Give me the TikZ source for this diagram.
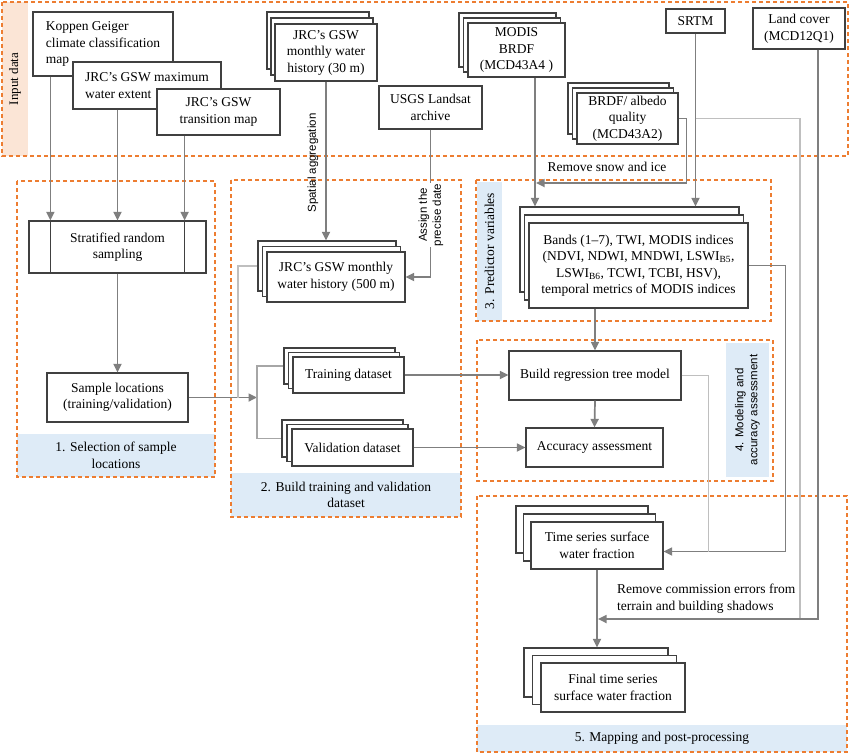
\documentclass[tikz,border=0pt]{standalone}
\usepackage{fontspec}
\setmainfont{Liberation Serif}
\setsansfont{Liberation Sans}
\usetikzlibrary{arrows.meta}

\definecolor{boxgray}{HTML}{404040}
\definecolor{arrgray}{HTML}{7F7F7F}
\definecolor{lightln}{HTML}{BFBFBF}
\definecolor{midln}{HTML}{A6A6A6}
\definecolor{frameor}{HTML}{ED7D31}
\definecolor{tagblue}{HTML}{DEEBF7}
\definecolor{tagpeach}{HTML}{FBE5D6}

\newcommand\boxfont{\fontsize{13.5}{16.5}\selectfont}
\newcommand\sidefont{\sffamily\fontsize{11.5}{14}\selectfont}

\begin{document}
\begin{tikzpicture}[
    x = 1pt, y = -1pt,
    box/.style = {draw=boxgray, line width=1.2pt, fill=white, inner sep=0pt,
        align=center, font=\boxfont},
    stackcopy/.style = {draw=boxgray, line width=1.2pt, fill=white},
    stack/.style 2 args = {box,
        preaction={stackcopy, transform canvas={shift={(-2*#1pt,2*#2pt)}}},
        preaction={stackcopy, transform canvas={shift={(-#1pt,#2pt)}}}},
    stagetag/.style = {fill=tagblue, inner sep=0pt, align=center, font=\boxfont},
    stageframe/.style = {draw=frameor, line width=1.2pt, dash pattern=on 4pt off 3pt},
    flow/.style = {draw=arrgray, line width=1.7pt, -{Triangle[length=8.5pt,width=8pt]}},
    feed/.style = {draw=lightln, line width=1.1pt},
    fork/.style = {draw=midln, line width=1.2pt}]
\useasboundingbox (0,0) rectangle (850,753);

\node[stagetag, fill=tagpeach, rotate=90, minimum width=154pt, minimum height=26pt,
    font=\fontsize{13}{15}\selectfont] (tin) at (15,79) {Input data};
\node[stagetag, minimum width=198pt, minimum height=43pt] (t1) at (116,455.5) {1. Selection of sample\\locations};
\node[stagetag, minimum width=230pt, minimum height=44pt] (t2) at (346,495) {2. Build training and validation\\dataset};
\node[stagetag, rotate=90, minimum width=139pt, minimum height=25pt] (t3) at (489.5,251) {3. Predictor variables};
\node[stagetag, rotate=90, minimum width=134pt, minimum height=43pt, font=\sidefont] (t4) at (747.5,410) {4. Modeling and\\accuracy assessment};
\node[stagetag, minimum width=370pt, minimum height=27pt] (t5) at (662,738.5) {5. Mapping and post-processing};

\draw[stageframe] (2,2) rectangle (848,156)
    (17,181) rectangle (215,477)
    (231,180) rectangle (461,517)
    (476,180) rectangle (771,321)
    (477,340) rectangle (773,481)
    (477,496) rectangle (847,752);

\node[box, align=left, minimum width=140pt, minimum height=64pt] (kop) at (103,44) {Koppen Geiger\\climate classification\\map};
\node[box, align=left, minimum width=148pt, minimum height=47pt] (ext) at (147,85.5) {JRC’s GSW maximum\\water extent};
\node[box, minimum width=123pt, minimum height=46pt] (trans) at (218.5,112) {JRC’s GSW\\transition map};
\node[stack={4}{6}, minimum width=102pt, minimum height=57pt] (m30) at (326,52.5) {JRC’s GSW\\monthly water\\history (30 m)};
\node[box, minimum width=103pt, minimum height=43pt] (usgs) at (430.5,107.5) {USGS Landsat\\archive};
\node[stack={4.5}{5}, minimum width=97pt, minimum height=54pt] (brdf) at (516.5,50) {MODIS\\BRDF\\(MCD43A4 )};
\node[stack={4.5}{5}, minimum width=101pt, minimum height=51pt] (qual) at (627.5,118.5) {BRDF/ albedo\\quality\\(MCD43A2)};
\node[box, minimum width=59pt, minimum height=24pt] (srtm) at (695.5,21) {SRTM};
\node[box, minimum width=92pt, minimum height=41pt] (land) at (799,28.5) {Land cover\\(MCD12Q1)};

\node[box, minimum width=177pt, minimum height=52pt] (strat) at (117.5,247) {Stratified random\\sampling};
\draw[boxgray, line width=1.2pt] ([xshift=22pt]strat.north west) -- ([xshift=22pt]strat.south west)
    ([xshift=-22pt]strat.north east) -- ([xshift=-22pt]strat.south east);
\node[box, minimum width=141pt, minimum height=49pt] (samp) at (117.5,397.5) {Sample locations\\(training/validation)};

\node[stack={4.5}{5.5}, minimum width=138pt, minimum height=50pt] (m500) at (336,277) {JRC’s GSW monthly\\water history (500 m)};
\node[stack={4.5}{4.5}, minimum width=111pt, minimum height=36pt] (train) at (348.5,375) {Training dataset};
\node[stack={5}{4.5}, minimum width=121pt, minimum height=37pt] (valid) at (352.5,447.5) {Validation dataset};

\node[stack={4.5}{8}, minimum width=219pt, minimum height=85pt] (pred) at (638.5,265.5) {Bands (1--7), TWI, MODIS indices\\(NDVI, NDWI, MNDWI, LSWI\textsubscript{B5},\\LSWI\textsubscript{B6}, TCWI, TCBI, HSV),\\temporal metrics of MODIS indices};
\node[box, minimum width=172pt, minimum height=49pt] (build) at (595,375.5) {Build regression tree model};
\node[box, minimum width=137pt, minimum height=39pt] (acc) at (594.5,447.5) {Accuracy assessment};

\node[stack={7.5}{8}, minimum width=132pt, minimum height=47pt] (ts) at (597,545.5) {Time series surface\\water fraction};
\node[stack={8.5}{7.5}, minimum width=144pt, minimum height=49pt] (fin) at (613,687.5) {Final time series\\surface water fraction};

\coordinate (sl) at ([xshift=22pt]strat.north west);
\coordinate (sr) at ([xshift=-22pt]strat.north east);
\coordinate (split) at (257,397.5);
\coordinate (mid) at (238,397.5);
\coordinate (m500top) at ([yshift=11pt]m500.north);
\coordinate (mline) at ([xshift=18.5pt]brdf.south);
\coordinate (predtop) at ([yshift=16pt]pred.north);
\coordinate (snow) at (536,183);
\coordinate (lline) at ([xshift=19pt]land.south);
\coordinate (sj) at (800,619);
\coordinate (shd) at (598,619);
\coordinate (tsin) at ([yshift=-6pt]ts.east);
\coordinate (fintop) at ([yshift=15pt]fin.north);

\draw[flow] (kop.south -| sl) -- (sl);
\draw[flow] (ext.south -| strat.north) -- (strat.north);
\draw[flow] (trans.south -| sr) -- (sr);
\draw[flow] (strat.south) -- (samp.north);
\draw[flow] (samp.east) -- (split);
\draw[feed] ([shift={(-9pt,11pt)}]m500.west) -| (mid);
\draw[fork] ([shift={(-9pt,9pt)}]train.west) -| (split) |- ([shift={(-10pt,9pt)}]valid.west);
\draw[flow] (m30.south) -- (m30.south |- m500top);
\draw[flow] (usgs.south) |- (m500.east);
\draw[flow] (mline) -- (mline |- predtop);
\draw[flow] (qual.east) -- ++(8,0) |- (snow);
\draw[flow] (srtm.south) -- (srtm.south |- predtop);
\draw[feed] (srtm.south |- qual.east) -| (sj);
\draw[flow] (lline) |- (shd);
\draw[flow] (pred.east) -- ++(37,0) |- (tsin);
\draw[feed] (build.east) -| ([xshift=45pt]tsin);
\draw[flow] (build.north |- pred.south) -- (build.north);
\draw[flow] (build.south) -- (acc.north);
\draw[flow] (train.east) -- (train.east -| build.west);
\draw[flow] (valid.east) -- (acc.west);
\draw[flow] (ts.south) -- (ts.south |- fintop);

\node[font=\sidefont, rotate=90] (spat) at (313,163) {Spatial aggregation};
\node[font=\sidefont, rotate=90, fill=white, align=center, inner sep=1pt] (asg) at (431,215) {Assign the\\precise date};
\node[font=\boxfont] (snowlbl) at (607,167) {Remove snow and ice};
\node[font=\boxfont, align=left, anchor=west, inner sep=0pt] (shdlbl) at (617,598.5) {Remove commission errors from\\terrain and building shadows};
\end{tikzpicture}
\end{document}
